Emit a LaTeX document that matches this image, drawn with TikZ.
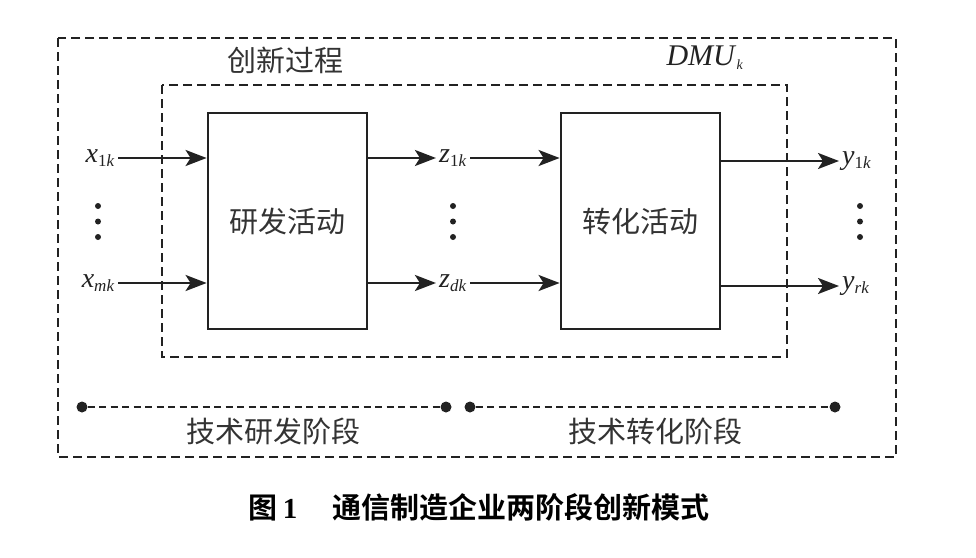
\documentclass[tikz,border=0pt]{standalone}
\usepackage{fontspec}
\setmainfont{Liberation Serif}
\newfontfamily\cjk{Noto Sans CJK SC}
\newfontfamily\cjkb{Noto Sans CJK SC Bold}
\usetikzlibrary{arrows.meta}
\definecolor{ink}{HTML}{222222}
\definecolor{txt}{HTML}{333333}
\tikzset{
  frame/.style={draw=ink, line width=2pt, dash pattern=on 9pt off 5pt},
  stagebox/.style={draw=ink, line width=2.8pt, minimum width=159pt, minimum height=216pt, inner sep=0pt, font=\cjk\fontsize{29}{34}\selectfont, text=txt},
  arr/.style={draw=ink, line width=2.5pt, -{Stealth[length=21pt,width=16pt,inset=5pt]}},
  lab/.style={inner sep=3pt, font=\fontsize{28}{30}\selectfont, text=ink},
  cjklab/.style={inner sep=0pt, font=\cjk\fontsize{29}{34}\selectfont, text=txt},
  vdot/.style={fill=ink},
  stageline/.style={draw=ink, line width=2pt, dash pattern=on 7pt off 4.5pt},
  enddot/.style={circle, fill=ink, inner sep=0pt, minimum size=11pt}
}
\newcommand{\sub}[1]{\textsubscript{\fontsize{17}{18}\selectfont #1}}
\begin{document}
\begin{tikzpicture}[x=1pt,y=-1pt]
\useasboundingbox (0,0) rectangle (976,557);
% frames
\draw[frame] (58,38) rectangle (896,457);
\draw[frame] (162,85) rectangle (787,357);
\node[cjklab] (proc) at (285,60) {创新过程};
\node[lab, font=\fontsize{30}{32}\selectfont] (dmu) at (705,58) {\textit{DMU}\textsubscript{\fontsize{14}{15}\selectfont\textit{k}}};
% boxes
\node[stagebox] (rd) at (287.5,221) {研发活动};
\node[stagebox] (tr) at (640.5,221) {转化活动};
% labels
\node[lab, anchor=east] (x1) at (118,158) {\textit{x}\sub{1\textit{k}}};
\node[lab, anchor=east] (xm) at (118,283) {\textit{x}\sub{\textit{mk}}};
\node[lab] (z1) at (453,158) {\textit{z}\sub{1\textit{k}}};
\node[lab] (zd) at (453,283) {\textit{z}\sub{\textit{dk}}};
\node[lab, anchor=west] (y1) at (839,161) {\textit{y}\sub{1\textit{k}}};
\node[lab, anchor=west] (yr) at (839,286) {\textit{y}\sub{\textit{rk}}};
% arrows
\draw[arr] (x1.east) -- (x1.east -| rd.west);
\draw[arr] (xm.east) -- (xm.east -| rd.west);
\draw[arr] (rd.east |- z1.west) -- (z1.west);
\draw[arr] (rd.east |- zd.west) -- (zd.west);
\draw[arr] (z1.east) -- (z1.east -| tr.west);
\draw[arr] (zd.east) -- (zd.east -| tr.west);
\draw[arr] (tr.east |- y1.west) -- (y1.west);
\draw[arr] (tr.east |- yr.west) -- (yr.west);
% vertical dots
\foreach \px in {98,453,860}{
  \foreach \py in {206,221.5,237}{
    \fill[vdot] (\px,\py) circle (3pt);
  }
}
% stage lines
\node[enddot] (a1) at (82,407) {};
\node[enddot] (a2) at (446,407) {};
\node[enddot] (b1) at (470,407) {};
\node[enddot] (b2) at (835,407) {};
\draw[stageline] (a1) -- (a2);
\draw[stageline] (b1) -- (b2);
\node[cjklab] (s1) at (273,431) {技术研发阶段};
\node[cjklab] (s2) at (655,431) {技术转化阶段};
% caption
\node[inner sep=0pt, text=black] (cap) at (479,507) {\cjkb\fontsize{29}{33}\selectfont 图\,{\bfseries\rmfamily 1}\hspace{1.2em}通信制造企业两阶段创新模式};
\end{tikzpicture}
\end{document}
